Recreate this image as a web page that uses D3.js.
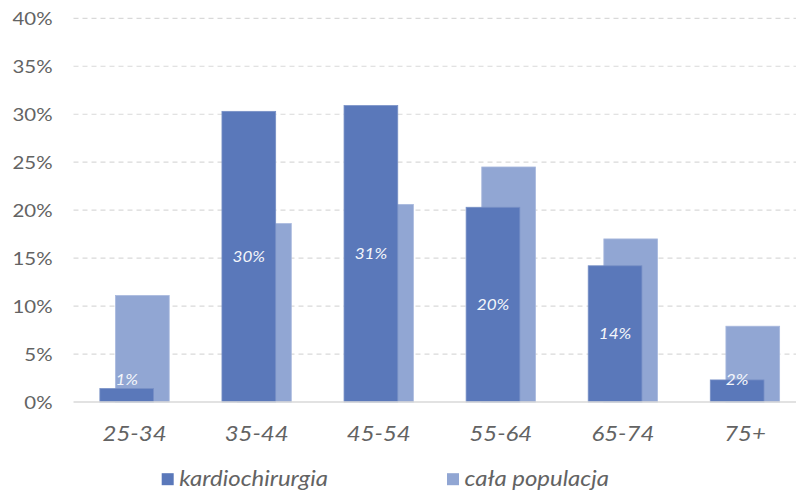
<!DOCTYPE html>
<html>
<head>
<meta charset="utf-8">
<script src="https://cdn.jsdelivr.net/npm/d3@7"></script>
<style>
  html, body { margin: 0; padding: 0; background: #fff; }
  svg { display: block; font-family: Lato, "Open Sans", sans-serif; font-weight: 400; }
</style>
</head>
<body>
<svg id="chart" width="796" height="492"></svg>
<script>
const categories = ["25-34", "35-44", "45-54", "55-64", "65-74", "75+"];
const kardiochirurgia = [0.014, 0.303, 0.309, 0.203, 0.142, 0.023];
const calaPopulacja = [0.111, 0.186, 0.206, 0.245, 0.170, 0.079];
const dataLabels = ["1%", "30%", "31%", "20%", "14%", "2%"];
const yTicks = [0, 0.05, 0.10, 0.15, 0.20, 0.25, 0.30, 0.35, 0.40];
const seriesNames = ["kardiochirurgia", "cała populacja"];
const colors = ["#5a78ba", "#91a6d3"];

const svg = d3.select("#chart");
const W = 796, H = 492;
const plotLeft = 73.5, plotRight = 806, plotTop = 18.3, plotBottom = 402;
const stretch = "scale(1.18,1)";
const textColor = "#636363";

const x = d3.scaleBand().domain(categories).range([plotLeft, plotRight]).padding(0);
const y = d3.scaleLinear().domain([0, 0.4]).range([plotBottom, plotTop]);

const step = x.bandwidth();
const barW = step * 0.44;
const shift = step * 0.128;
const groupW = barW + shift;

// gridlines
svg.append("g")
  .selectAll("line")
  .data(yTicks.filter(d => d > 0))
  .join("line")
  .attr("x1", plotLeft).attr("x2", W)
  .attr("y1", d => y(d)).attr("y2", d => y(d))
  .attr("stroke", "#d9d9d9")
  .attr("stroke-width", 1.2)
  .attr("stroke-dasharray", "5,4");

// y axis labels
const yAxis = d3.axisLeft(y).tickValues(yTicks).tickFormat(d => Math.round(d * 100) + "%").tickSize(0).tickPadding(0);
const yg = svg.append("g").attr("transform", `translate(52.5,0)`).call(yAxis);
yg.select(".domain").remove();
yg.selectAll("text")
  .attr("x", 0)
  .attr("dy", "0.36em")
  .attr("transform", stretch)
  .attr("fill", textColor)
  .style("font-size", "17.3px")
  .style("font-weight", "400")
  .style("font-family", "Lato, sans-serif");

// light bars (behind)
svg.append("g")
  .selectAll("rect")
  .data(categories)
  .join("rect")
  .attr("x", (d) => x(d) + step / 2 - groupW / 2 + shift)
  .attr("width", barW)
  .attr("y", (d, i) => y(calaPopulacja[i]))
  .attr("height", (d, i) => y(0) - y(calaPopulacja[i]))
  .attr("fill", colors[1])
  .attr("stroke", "#a9b9de")
  .attr("stroke-width", 0.8);

// dark bars (front)
svg.append("g")
  .selectAll("rect")
  .data(categories)
  .join("rect")
  .attr("x", (d) => x(d) + step / 2 - groupW / 2)
  .attr("width", barW)
  .attr("y", (d, i) => y(kardiochirurgia[i]))
  .attr("height", (d, i) => y(0) - y(kardiochirurgia[i]))
  .attr("fill", colors[0])
  .attr("stroke", "#7890c6")
  .attr("stroke-width", 0.8);

// baseline
svg.append("line")
  .attr("x1", plotLeft).attr("x2", W)
  .attr("y1", y(0)).attr("y2", y(0))
  .attr("stroke", "#d9d9d9")
  .attr("stroke-width", 1.5);

// data labels
svg.append("g")
  .selectAll("g")
  .data(categories)
  .join("g")
  .attr("transform", (d, i) => `translate(${x(d) + step / 2 - groupW / 2 + barW / 2},${Math.min((y(kardiochirurgia[i]) + y(0)) / 2, y(0) - 23)})`)
  .append("text")
  .attr("transform", "scale(1.1,1)")
  .attr("dy", "0.36em")
  .attr("text-anchor", "middle")
  .attr("fill", "#f4f6fb")
  .style("font-size", "15.5px")
  .style("font-style", "italic")
  .text((d, i) => dataLabels[i]);

// x axis labels
const xAxis = d3.axisBottom(x).tickSize(0).tickPadding(0);
const xg = svg.append("g").attr("transform", `translate(0,441.3)`).call(xAxis);
xg.select(".domain").remove();
xg.selectAll("text")
  .attr("y", 0)
  .attr("dy", 0)
  .attr("transform", stretch)
  .attr("fill", textColor)
  .style("font-size", "20.3px")
  .style("font-weight", "400")
  .style("font-style", "italic")
  .style("font-family", "Lato, sans-serif");

// legend
const legendX = [161.7, 447];
const legend = svg.append("g");
seriesNames.forEach((name, i) => {
  legend.append("rect")
    .attr("x", legendX[i]).attr("y", 473.2)
    .attr("width", 12).attr("height", 12)
    .attr("fill", colors[i]);
  legend.append("g")
    .attr("transform", `translate(${legendX[i] + 17.6},486)`)
    .append("text")
    .attr("transform", stretch)
    .attr("fill", textColor)
    .style("font-size", "20.3px")
    .style("font-style", "italic")
    .text(name);
});
</script>
</body>
</html>
